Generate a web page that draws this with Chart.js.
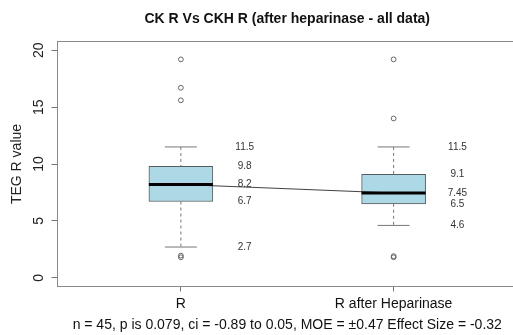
<!DOCTYPE html>
<html>
<head>
<meta charset="utf-8">
<script src="https://cdn.jsdelivr.net/npm/chart.js@4.4.1/dist/chart.umd.min.js"></script>
<style>
  html, body { margin: 0; padding: 0; background: #fff; overflow: hidden; }
  #wrap { width: 513px; height: 335px; overflow: hidden; position: relative; }
  #chart { position: absolute; left: 0; top: 0; }
</style>
</head>
<body>
<div id="wrap"><canvas id="chart" width="530" height="335"></canvas></div>
<script>
// Data
const groups = ['R', 'R after Heparinase'];
const upperWhisker = [11.5, 11.5];
const upperQuartile = [9.8, 9.1];
const medians = [8.2, 7.45];
const lowerQuartile = [6.7, 6.5];
const lowerWhisker = [2.7, 4.6];
const outliersR = [19.2, 16.7, 15.6, 1.95, 1.8];
const outliersRH = [19.2, 14.0, 1.9, 1.8];
const labelsR = ['11.5', '9.8', '8.2', '6.7', '2.7'];
const labelsRH = ['11.5', '9.1', '7.45', '6.5', '4.6'];
const yTicks = [0, 5, 10, 15, 20];
const chartTitle = 'CK R Vs CKH R (after heparinase - all data)';
const yTitle = 'TEG R value';
const footerText = 'n = 45, p is 0.079, ci = -0.89 to 0.05, MOE = \u00b10.47 Effect Size = -0.32';

const FONT = '"Liberation Sans", Arial, Helvetica, sans-serif';

// Build datasets from the arrays
const positions = groups.map((g, i) => i + 1);
const boxData = positions.map((x, i) => ({ x: x, y: [lowerQuartile[i], upperQuartile[i]] }));
const medianData = positions.map((x, i) => ({ x: x, y: medians[i] }));
const capData = [];
const whiskerData = [];
positions.forEach((x, i) => {
  capData.push({ x: x, y: upperWhisker[i] }, { x: x, y: lowerWhisker[i] });
  whiskerData.push({ x: x, y: upperWhisker[i] }, { x: x, y: upperQuartile[i] }, { x: x, y: null });
  whiskerData.push({ x: x, y: lowerQuartile[i] }, { x: x, y: lowerWhisker[i] }, { x: x, y: null });
});
const outlierData = outliersR.map(v => ({ x: 1, y: v }))
  .concat(outliersRH.map(v => ({ x: 2, y: v })));

// Extra drawing: frame, rotated y labels, annotations, title, footer
const decorations = {
  id: 'decorations',
  afterDraw(chart) {
    const ctx = chart.ctx;
    const area = chart.chartArea;
    const xs = chart.scales.x;
    const ys = chart.scales.y;
    ctx.save();

    // frame
    ctx.strokeStyle = '#8a8a8a';
    ctx.lineWidth = 1;
    ctx.strokeRect(area.left, area.top, area.right - area.left, area.bottom - area.top);

    // y tick labels, rotated like R
    ctx.fillStyle = '#222';
    ctx.font = '14px ' + FONT;
    ctx.textAlign = 'center';
    ctx.textBaseline = 'middle';
    yTicks.forEach(v => {
      ctx.save();
      ctx.translate(39.5, ys.getPixelForValue(v));
      ctx.rotate(-Math.PI / 2);
      ctx.fillText(String(v), 0, 0);
      ctx.restore();
    });

    // y title
    ctx.save();
    ctx.translate(17, (area.top + area.bottom) / 2);
    ctx.rotate(-Math.PI / 2);
    ctx.fillText(yTitle, 0, 0);
    ctx.restore();

    // value annotations beside the boxes
    ctx.font = '10px ' + FONT;
    ctx.fillStyle = '#333';
    const valsR = [upperWhisker[0], upperQuartile[0], medians[0], lowerQuartile[0], lowerWhisker[0]];
    const valsRH = [upperWhisker[1], upperQuartile[1], medians[1], lowerQuartile[1], lowerWhisker[1]];
    valsR.forEach((v, i) => ctx.fillText(labelsR[i], xs.getPixelForValue(1.3), ys.getPixelForValue(v)));
    valsRH.forEach((v, i) => ctx.fillText(labelsRH[i], xs.getPixelForValue(2.3), ys.getPixelForValue(v)));

    // title and footer
    const cx = (area.left + area.right) / 2;
    ctx.fillStyle = '#111';
    ctx.font = 'bold 14px ' + FONT;
    ctx.fillText(chartTitle, cx, 19);
    ctx.font = '14px ' + FONT;
    ctx.fillText(footerText, cx, 325);

    ctx.restore();
  }
};

new Chart('chart', {
  type: 'bar',
  data: {
    datasets: [
      {
        type: 'line',
        label: 'whiskers',
        data: whiskerData,
        borderColor: '#777',
        borderWidth: 1,
        borderDash: [3, 3],
        pointRadius: 0,
        spanGaps: false,
        order: 6
      },
      {
        type: 'scatter',
        label: 'caps',
        data: capData,
        pointStyle: 'line',
        pointRadius: 16,
        borderColor: '#777',
        borderWidth: 1,
        order: 5
      },
      {
        type: 'bar',
        label: 'box',
        data: boxData,
        backgroundColor: '#ADD8E6',
        borderColor: '#5a5a5a',
        borderWidth: 1,
        borderSkipped: false,
        barThickness: 64,
        order: 4
      },
      {
        type: 'line',
        label: 'median link',
        data: medianData,
        borderColor: '#111',
        borderWidth: 0.8,
        pointRadius: 0,
        order: 3
      },
      {
        type: 'scatter',
        label: 'median',
        data: medianData,
        pointStyle: 'line',
        pointRadius: 32,
        borderColor: '#000',
        borderWidth: 3,
        order: 2
      },
      {
        type: 'scatter',
        label: 'outliers',
        data: outlierData,
        pointStyle: 'circle',
        pointRadius: 2.4,
        borderColor: '#666',
        backgroundColor: 'rgba(0,0,0,0)',
        borderWidth: 1,
        order: 1
      }
    ]
  },
  options: {
    responsive: false,
    animation: false,
    events: [],
    layout: { autoPadding: false, padding: { top: 41.5, right: 13, bottom: 0, left: 0 } },
    plugins: {
      legend: { display: false },
      tooltip: { enabled: false },
      title: { display: false }
    },
    scales: {
      x: {
        type: 'linear',
        min: 0.42,
        max: 2.58,
        offset: false,
        afterBuildTicks: scale => { scale.ticks = positions.map(v => ({ value: v })); },
        afterFit: scale => {
          scale.height = 48.5;
          scale.paddingLeft = 0;
          scale.paddingRight = 0;
        },
        grid: { offset: false, drawOnChartArea: false, drawTicks: true, tickLength: 5, color: '#777' },
        border: { display: false },
        ticks: {
          autoSkip: false,
          maxRotation: 0,
          padding: 4,
          color: '#111',
          font: { family: FONT, size: 14 },
          callback: v => groups[v - 1] || ''
        }
      },
      y: {
        type: 'linear',
        min: -0.77,
        max: 20.77,
        afterBuildTicks: scale => { scale.ticks = yTicks.map(v => ({ value: v })); },
        afterFit: scale => { scale.width = 57.5; },
        grid: { drawOnChartArea: false, drawTicks: true, tickLength: 6, color: '#777' },
        border: { display: false },
        ticks: { display: false }
      }
    }
  },
  plugins: [decorations]
});
</script>
</body>
</html>
